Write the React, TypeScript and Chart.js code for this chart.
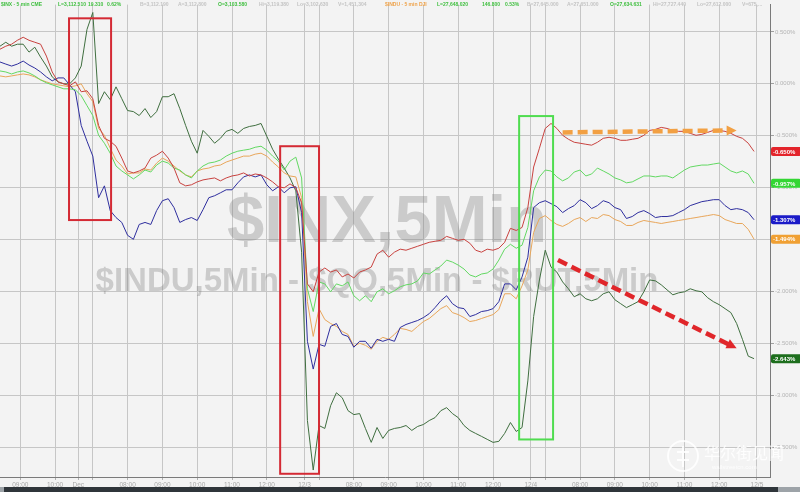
import { useEffect, useRef } from "react";
import { Chart, registerables } from "chart.js";

Chart.register(...registerables);

// Each sample covers two 5-minute bars.
const SAMPLE_STEP = 2;

// Percent change series, one sample every ten minutes.
const rutPct = [
  0.333, 0.362, 0.381, 0.419, 0.448, 0.419, 0.4, 0.381, 0.267, 0.114,
  0.019, 0.0, -0.019, 0.019, -0.076, -0.067, -0.143, -0.4, -0.524, -0.552,
  -0.6, -0.714, -0.838, -0.857, -0.838, -0.81, -0.714, -0.686, -0.648, -0.714,
  -0.81, -0.952, -0.981, -0.971, -0.943, -0.924, -0.914, -0.905, -0.933, -0.905,
  -0.886, -0.876, -0.857, -0.886, -0.867, -0.876, -0.905, -0.943, -0.99, -1.0,
  -0.962, -1.0, -1.143, -1.924, -2.0, -1.81, -1.771, -1.81, -1.79, -1.857,
  -1.829, -1.867, -1.81, -1.79, -1.762, -1.638, -1.6, -1.667, -1.619, -1.59,
  -1.6, -1.581, -1.562, -1.543, -1.524, -1.514, -1.505, -1.467, -1.486, -1.505,
  -1.495, -1.533, -1.6, -1.619, -1.59, -1.6, -1.581, -1.524, -1.39, -1.41,
  -1.381, -1.19, -0.8, -0.619, -0.429, -0.381, -0.429, -0.495, -0.533, -0.562,
  -0.571, -0.581, -0.59, -0.562, -0.524, -0.514, -0.524, -0.543, -0.543, -0.533,
  -0.524, -0.495, -0.448, -0.438, -0.419, -0.429, -0.448, -0.457, -0.457, -0.476,
  -0.495, -0.486, -0.467, -0.448, -0.448, -0.457, -0.476, -0.505, -0.524, -0.571,
  -0.65,
];

const inxPct = [
  0.124, 0.114, 0.095, 0.114, 0.124, 0.105, 0.076, 0.038, 0.01, -0.01,
  -0.029, -0.048, -0.048, -0.057, -0.114, -0.21, -0.305, -0.495, -0.571, -0.667,
  -0.79, -0.838, -0.876, -0.914, -0.876, -0.829, -0.848, -0.781, -0.743, -0.762,
  -0.81, -0.829, -0.876, -0.905, -0.838, -0.79, -0.762, -0.752, -0.733, -0.695,
  -0.667, -0.648, -0.638, -0.629, -0.61, -0.6, -0.638, -0.695, -0.743, -0.829,
  -0.743, -0.705, -0.905, -1.971, -2.19, -1.905, -1.924, -2.0, -1.924, -1.943,
  -1.905, -2.038, -2.086, -2.038, -2.095, -2.0, -1.971, -2.019, -1.99, -1.952,
  -1.933, -1.924, -1.895, -1.819, -1.829, -1.79, -1.752, -1.695, -1.714, -1.743,
  -1.781, -1.838, -1.857, -1.829, -1.819, -1.781, -1.695, -1.59, -1.543, -1.581,
  -1.552, -1.381, -1.029, -0.895, -0.829, -0.838, -0.895, -0.933, -0.905, -0.848,
  -0.829, -0.886, -0.867, -0.81, -0.838, -0.867, -0.905, -0.924, -0.952, -0.943,
  -0.914, -0.886, -0.886, -0.895, -0.886, -0.886, -0.905, -0.867, -0.829, -0.8,
  -0.79, -0.781, -0.781, -0.771, -0.762, -0.8, -0.838, -0.857, -0.838, -0.867,
  -0.957,
];

const compqPct = [
  0.21, 0.19, 0.171, 0.19, 0.219, 0.181, 0.152, 0.114, 0.067, 0.029,
  0.057, 0.057, -0.01, -0.076, -0.4, -0.552, -0.695, -1.095, -0.981, -1.219,
  -1.286, -1.333, -1.457, -1.495, -1.352, -1.333, -1.352, -1.219, -1.124, -1.105,
  -1.19, -1.333, -1.305, -1.286, -1.314, -1.21, -1.095, -1.076, -1.048, -1.019,
  -1.019, -0.952, -0.895, -0.876, -0.895, -0.876, -0.971, -1.029, -0.99, -1.048,
  -1.0, -0.99, -1.238, -2.476, -2.743, -2.505, -2.524, -2.333, -2.305, -2.41,
  -2.429, -2.533, -2.476, -2.476, -2.543, -2.457, -2.476, -2.457, -2.476, -2.343,
  -2.314, -2.295, -2.276, -2.248, -2.21, -2.152, -2.086, -2.038, -2.114, -2.152,
  -2.162, -2.238, -2.219, -2.19, -2.181, -2.162, -2.095, -1.924, -1.924, -1.981,
  -1.857, -1.667, -1.19, -1.143, -1.124, -1.152, -1.181, -1.238, -1.2, -1.171,
  -1.114, -1.143, -1.2, -1.171, -1.124, -1.143, -1.19, -1.21, -1.295, -1.276,
  -1.238, -1.219, -1.248, -1.286, -1.276, -1.276, -1.267, -1.238, -1.21, -1.171,
  -1.152, -1.133, -1.124, -1.114, -1.114, -1.171, -1.21, -1.2, -1.21, -1.238,
  -1.307,
];

const induPct = [
  0.076, 0.067, 0.076, 0.086, 0.095, 0.086, 0.067, 0.038, 0.019, 0.0,
  -0.01, -0.019, -0.029, -0.019, 0.0, -0.095, -0.171, -0.429, -0.495, -0.619,
  -0.733, -0.79, -0.867, -0.857, -0.857, -0.819, -0.829, -0.762, -0.714, -0.743,
  -0.79, -0.838, -0.876, -0.895, -0.838, -0.819, -0.81, -0.79, -0.781, -0.752,
  -0.733, -0.714, -0.695, -0.695, -0.676, -0.667, -0.695, -0.752, -0.8, -0.857,
  -0.886, -0.895, -1.095, -2.095, -2.429, -2.162, -2.267, -2.305, -2.333, -2.381,
  -2.41, -2.524, -2.495, -2.514, -2.552, -2.476, -2.438, -2.457, -2.41, -2.352,
  -2.362, -2.381, -2.333, -2.286, -2.257, -2.21, -2.162, -2.133, -2.2, -2.219,
  -2.248, -2.286, -2.276, -2.257, -2.238, -2.219, -2.171, -2.019, -2.019, -2.067,
  -1.943, -1.79, -1.429, -1.295, -1.267, -1.314, -1.352, -1.371, -1.343, -1.305,
  -1.286, -1.324, -1.286, -1.295, -1.257, -1.267, -1.305, -1.324, -1.362, -1.362,
  -1.333, -1.314, -1.324, -1.333, -1.343, -1.333, -1.324, -1.314, -1.305, -1.295,
  -1.286, -1.276, -1.267, -1.257, -1.267, -1.305, -1.324, -1.343, -1.343, -1.4,
  -1.494,
];

const tranPct = [
  0.362, 0.4, 0.362, 0.381, 0.381, 0.305, 0.352, 0.257, 0.171, 0.067,
  0.019, 0.0, 0.0, 0.057, 0.171, 0.524, 0.686, -0.19, -0.076, -0.152,
  -0.029, -0.143, -0.257, -0.267, -0.305, -0.238, -0.324, -0.267, -0.124, -0.124,
  -0.095, -0.238, -0.4, -0.552, -0.667, -0.448, -0.505, -0.571, -0.524, -0.457,
  -0.438, -0.476, -0.429, -0.41, -0.4, -0.381, -0.505, -0.629, -0.724, -0.81,
  -0.905, -1.029, -1.619, -3.238, -3.714, -3.286, -3.314, -3.095, -2.971, -3.019,
  -3.143, -3.181, -3.171, -3.314, -3.448, -3.305, -3.41, -3.333, -3.314, -3.305,
  -3.286, -3.333, -3.295, -3.276, -3.238, -3.21, -3.143, -3.114, -3.171, -3.21,
  -3.286, -3.333, -3.362, -3.39, -3.419, -3.448, -3.438, -3.362, -3.257, -3.343,
  -3.305, -2.857, -2.238, -1.886, -1.6, -1.762, -1.81, -1.905, -1.971, -2.048,
  -2.019, -2.067, -2.086, -2.067, -2.019, -2.0, -2.076, -2.114, -2.152, -2.124,
  -2.095, -2.0, -1.886, -1.895, -1.933, -1.981, -2.029, -2.01, -2.0, -1.971,
  -1.99, -2.0, -2.057, -2.095, -2.124, -2.162, -2.2, -2.305, -2.457, -2.619,
  -2.643,
];

// Time axis: bar indexes of the prior session's hour marks, and session opens.
const priorHourBars = [7, 19];
const priorHourLabels = ["09:00", "10:00"];
const sessionOpenBars = [27, 105, 183, 261];
const sessionDateLabels = ["Dec", "12/3", "12/4", "12/5"];
const sessionHourLabels = ["08:00", "09:00", "10:00", "11:00", "12:00"];
const BARS_PER_HOUR = 12;
const FIRST_HOUR_OFFSET = 17; // 08:00 bar after the open
const HALF_HOUR_OFFSET = 5; // 07:00 bar after the open (grid only)

// Percent grid on the right axis.
const yTickValues = [0.5, 0, -0.5, -1, -1.5, -2, -2.5, -3, -3.5];

// Quote header.
const headerItems = [
  { text: "$INX - 5 min CME", tone: "up" },
  { text: "L=3,112.510", tone: "up" },
  { text: "19.310", tone: "up" },
  { text: "0.62%", tone: "up" },
  { text: "B=3,112.190", tone: "dim" },
  { text: "A=3,112.800", tone: "dim" },
  { text: "O=3,103.580", tone: "up" },
  { text: "Hi=3,119.380", tone: "dim" },
  { text: "Lo=3,102.630", tone: "dim" },
  { text: "V=1,451,304", tone: "dim" },
  { text: "$INDU - 5 min DJI", tone: "alt" },
  { text: "L=27,648.020", tone: "up" },
  { text: "146.800", tone: "up" },
  { text: "0.53%", tone: "up" },
  { text: "B=27,645.000", tone: "dim" },
  { text: "A=27,651.000", tone: "dim" },
  { text: "O=27,634.631", tone: "up" },
  { text: "Hi=27,727.440", tone: "dim" },
  { text: "Lo=27,612.000", tone: "dim" },
  { text: "V=675,...", tone: "dim" },
];
const headerX = [1, 58, 88, 107, 140, 178, 218, 259, 297, 338, 385, 437, 482, 505, 527, 567, 610, 653, 697, 742];

const seriesDefs = [
  { label: "$RUT", values: rutPct, line: "#c8423f", tag: "#e3242b" },
  { label: "$INX", values: inxPct, line: "#62d862", tag: "#33d633" },
  { label: "$COMPQ", values: compqPct, line: "#2e2e9e", tag: "#1b1bc8" },
  { label: "$INDU", values: induPct, line: "#e8a65a", tag: "#f0a033" },
  { label: "$TRAN", values: tranPct, line: "#3f6e3f", tag: "#1d6e1d" },
];

// Highlight boxes and trend arrows, in (bar, %) coordinates.
const boxes = [
  { x0: 23.8, x1: 38.3, y0: 0.63, y1: -1.31, color: "#d42a34" },
  { x0: 96.6, x1: 110, y0: -0.6, y1: -3.75, color: "#d42a34" },
  { x0: 179, x1: 190.7, y0: -0.31, y1: -3.42, color: "#4fdc4f" },
];
const arrows = [
  { x0: 194, y0: -0.467, x1: 254, y1: -0.448, color: "#f2a043" },
  { x0: 192.4, y0: -1.695, x1: 254, y1: -2.543, color: "#e0262a" },
];

const mainWatermark = "$INX,5Min";
const subWatermark = "$INDU,5Min - $QQ,5Min - $RUT,5Min";
const brandName = "华尔街见闻";
const brandSite = "wallstreetcn.com";

function buildXTicks() {
  const ticks: { value: number; label: string }[] = [];
  priorHourBars.forEach((b, i) => ticks.push({ value: b, label: priorHourLabels[i] }));
  sessionOpenBars.forEach((open, i) => {
    ticks.push({ value: open, label: sessionDateLabels[i] });
    if (i < sessionOpenBars.length - 1) {
      ticks.push({ value: open + HALF_HOUR_OFFSET, label: "" });
      sessionHourLabels.forEach((h, j) =>
        ticks.push({ value: open + FIRST_HOUR_OFFSET + j * BARS_PER_HOUR, label: h })
      );
    }
  });
  return ticks;
}

const toneColor: Record<string, string> = { up: "#3fbf3f", dim: "#c4c4c4", alt: "#eea24a" };

export default function App() {
  const canvasRef = useRef<HTMLCanvasElement | null>(null);

  useEffect(() => {
    const canvas = canvasRef.current;
    if (!canvas) return;
    const xTicks = buildXTicks();

    const decor = {
      id: "decor",
      beforeDraw(chart: any) {
        const { ctx } = chart;
        ctx.save();
        ctx.fillStyle = "#f3f3f3";
        ctx.fillRect(0, 0, chart.width, chart.height);
        ctx.restore();
      },
      beforeDatasetsDraw(chart: any) {
        const { ctx, chartArea } = chart;
        const cx = (chartArea.left + chartArea.right) / 2;
        ctx.save();
        ctx.beginPath();
        ctx.rect(chartArea.left, chartArea.top, chartArea.right - chartArea.left, chartArea.bottom - chartArea.top);
        ctx.clip();
        ctx.fillStyle = "rgba(120,120,120,0.33)";
        ctx.textBaseline = "alphabetic";
        ctx.textAlign = "center";
        ctx.font = 'bold 67px "Liberation Sans", Arial, sans-serif';
        ctx.fillText(mainWatermark, cx + 2, 242);
        ctx.font = 'bold 33px "Liberation Sans", Arial, sans-serif';
        ctx.fillText(subWatermark, cx - 8, 291);
        ctx.restore();
      },
      afterDatasetsDraw(chart: any) {
        const { ctx } = chart;
        const xs = chart.scales.x;
        const ys = chart.scales.y;
        ctx.save();
        boxes.forEach((b) => {
          const l = xs.getPixelForValue(b.x0);
          const r = xs.getPixelForValue(b.x1);
          const t = ys.getPixelForValue(b.y0);
          const btm = ys.getPixelForValue(b.y1);
          ctx.strokeStyle = b.color;
          ctx.lineWidth = 2;
          ctx.strokeRect(l, t, r - l, btm - t);
        });
        arrows.forEach((a) => {
          const x1 = xs.getPixelForValue(a.x0);
          const y1 = ys.getPixelForValue(a.y0);
          const x2 = xs.getPixelForValue(a.x1);
          const y2 = ys.getPixelForValue(a.y1);
          const ang = Math.atan2(y2 - y1, x2 - x1);
          const head = 10;
          ctx.strokeStyle = a.color;
          ctx.fillStyle = a.color;
          ctx.lineWidth = 4.5;
          ctx.setLineDash([10, 5]);
          ctx.beginPath();
          ctx.moveTo(x1, y1);
          ctx.lineTo(x2 - Math.cos(ang) * head * 0.7, y2 - Math.sin(ang) * head * 0.7);
          ctx.stroke();
          ctx.setLineDash([]);
          ctx.beginPath();
          ctx.moveTo(x2, y2);
          ctx.lineTo(x2 - head * Math.cos(ang) + 5 * Math.sin(ang), y2 - head * Math.sin(ang) - 5 * Math.cos(ang));
          ctx.lineTo(x2 - head * Math.cos(ang) - 5 * Math.sin(ang), y2 - head * Math.sin(ang) + 5 * Math.cos(ang));
          ctx.closePath();
          ctx.fill();
        });
        ctx.restore();
      },
      afterDraw(chart: any) {
        const { ctx, chartArea } = chart;
        const ys = chart.scales.y;
        ctx.save();
        // publisher mark, lower right
        ctx.strokeStyle = "rgba(255,255,255,0.85)";
        ctx.fillStyle = "rgba(255,255,255,0.85)";
        ctx.lineWidth = 2;
        ctx.beginPath();
        ctx.arc(683, 456, 15, 0, Math.PI * 2);
        ctx.stroke();
        ctx.beginPath();
        ctx.moveTo(683, 446);
        ctx.lineTo(683, 467);
        ctx.moveTo(677, 452);
        ctx.lineTo(689, 452);
        ctx.moveTo(677, 460);
        ctx.lineTo(689, 460);
        ctx.stroke();
        ctx.textAlign = "left";
        ctx.textBaseline = "alphabetic";
        ctx.font = '16px "Noto Sans CJK SC", sans-serif';
        ctx.fillText(brandName, 704, 459);
        ctx.font = '6px "Liberation Sans", Arial, sans-serif';
        ctx.fillText(brandSite, 712, 469);

        // last-value tags on the right axis
        ctx.font = 'bold 6px "Liberation Sans", Arial, sans-serif';
        ctx.textBaseline = "middle";
        ctx.textAlign = "left";
        seriesDefs.forEach((s) => {
          const last = s.values[s.values.length - 1];
          const y = ys.getPixelForValue(last);
          const x = chartArea.right + 1;
          ctx.fillStyle = s.tag;
          ctx.beginPath();
          (ctx as any).roundRect(x, y - 4.5, 30, 9, 2);
          ctx.fill();
          ctx.fillStyle = "#ffffff";
          ctx.fillText(last.toFixed(3) + "%", x + 2, y + 0.5);
        });
        // quote header
        ctx.font = 'bold 5px "Liberation Sans", Arial, sans-serif';
        ctx.textBaseline = "middle";
        headerItems.forEach((h, i) => {
          ctx.fillStyle = toneColor[h.tone];
          ctx.fillText(h.text, headerX[i], 4.5);
        });
        // scroll bar strip
        ctx.fillStyle = "#2f353a";
        ctx.fillRect(0, chart.height - 5, chart.width, 5);
        ctx.fillStyle = "#9da3a8";
        ctx.fillRect(chart.width - 22, chart.height - 5, 22, 5);
        ctx.fillRect(0, chart.height - 5, 4, 5);
        ctx.restore();
      },
    };

    const chart = new Chart(canvas, {
      type: "line",
      data: {
        datasets: seriesDefs.map((s) => ({
          label: s.label,
          data: s.values.map((v, i) => ({ x: i * SAMPLE_STEP, y: v })),
          borderColor: s.line,
          backgroundColor: s.line,
          borderWidth: 1,
          pointRadius: 0,
          tension: 0,
          fill: false,
        })),
      },
      options: {
        animation: false,
        responsive: false,
        maintainAspectRatio: false,
        layout: { padding: 0 },
        plugins: { legend: { display: false }, tooltip: { enabled: false }, title: { display: false } },
        scales: {
          x: {
            type: "linear",
            min: 0,
            max: 265.5,
            afterFit(scale: any) {
              scale.height = 15;
            },
            afterBuildTicks(scale: any) {
              scale.ticks = xTicks.map((t) => ({ value: t.value }));
            },
            ticks: {
              autoSkip: false,
              maxRotation: 0,
              minRotation: 0,
              padding: 1,
              color: "#a8a8a8",
              font: { family: '"Liberation Sans", Arial, sans-serif', size: 6.5 },
              callback: (_v: any, i: number) => xTicks[i].label,
            },
            grid: { color: "#c6c6c6", lineWidth: 1, tickLength: 3, tickColor: "#b0b0b0" },
            border: { display: true, color: "#7a7a7a" },
          },
          y: {
            type: "linear",
            position: "right",
            min: -3.781,
            max: 0.762,
            afterFit(scale: any) {
              scale.width = 30;
            },
            afterBuildTicks(scale: any) {
              scale.ticks = yTickValues.map((v) => ({ value: v }));
            },
            ticks: {
              padding: 1,
              color: "#b4b4b4",
              font: { family: '"Liberation Sans", Arial, sans-serif', size: 6 },
              callback: (v: any) => Number(v).toFixed(3) + "%",
            },
            grid: { color: "#c6c6c6", lineWidth: 1, tickLength: 4, tickColor: "#a0a0a0" },
            border: { display: true, color: "#7a7a7a" },
          },
        },
      },
      plugins: [decor],
    });

    return () => chart.destroy();
  }, []);

  return (
    <div style={{ position: "fixed", left: 0, top: 0, width: 800, height: 492, background: "#f3f3f3" }}>
      <canvas ref={canvasRef} width={800} height={492} style={{ display: "block" }} />
    </div>
  );
}
